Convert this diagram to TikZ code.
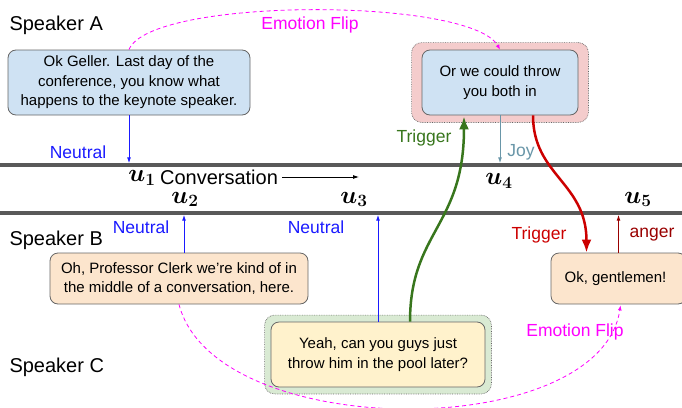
\documentclass[tikz,border=0pt]{standalone}
\usepackage[no-math]{fontspec}
\setmainfont{Liberation Sans}
\usepackage{amsmath}
\usetikzlibrary{arrows.meta, positioning, fit, backgrounds}
\definecolor{boxBlue}{RGB}{207,226,243}
\definecolor{boxPeach}{RGB}{252,229,205}
\definecolor{boxYellow}{RGB}{255,242,204}
\definecolor{haloRed}{RGB}{244,204,204}
\definecolor{haloGreen}{RGB}{217,234,211}
\definecolor{edgeGray}{RGB}{102,102,102}
\definecolor{railGray}{RGB}{89,89,89}
\definecolor{neutralBlue}{RGB}{26,26,255}
\definecolor{joyTeal}{RGB}{105,150,168}
\definecolor{trigGreen}{RGB}{56,118,29}
\definecolor{trigRed}{RGB}{204,0,0}
\definecolor{angerRed}{RGB}{153,0,0}
\definecolor{flipPink}{RGB}{255,0,255}

\tikzset{
  utt/.style={draw=edgeGray, line width=0.8pt, rounded corners=8pt, align=center,
    inner sep=0pt, font=\fontsize{15}{19.5}\selectfont},
  halo/.style={draw=edgeGray, densely dotted, line width=0.7pt, rounded corners=10pt},
  emo/.style={font=\fontsize{17.5}{20}\selectfont},
  spk/.style={anchor=west, font=\fontsize{20}{24}\selectfont},
  uidx/.style={inner sep=0pt, font=\fontsize{24}{26}\selectfont\boldmath},
  thinarr/.style={line width=1pt, -{Latex[length=6pt,width=4pt]}},
  trigarr/.style={line width=2.5pt, -{Latex[length=13pt,width=10pt]}},
  fliparr/.style={flipPink, line width=0.8pt, dash pattern=on 4pt off 3pt,
    -{Latex[length=5pt,width=4pt]}},
}

\begin{document}
\begin{tikzpicture}[x=1pt,y=-1pt]
  \useasboundingbox (0,0) rectangle (682,407);

  % speakers
  \node[spk] (spkA) at (6,25) {Speaker A};
  \node[spk] (spkB) at (6,240) {Speaker B};
  \node[spk] (spkC) at (6,367) {Speaker C};

  % conversation rails
  \coordinate (railA) at (0,165.3);
  \coordinate (railB) at (0,212.7);
  \draw[railGray, line width=4pt] (railA) -- (682,165.3);
  \draw[railGray, line width=4pt] (railB) -- (682,212.7);

  % utterances
  \node[utt, fill=boxBlue, minimum width=242pt, minimum height=65pt] (uttA) at (129,82.5)
    {Ok Geller. Last day of the\\conference, you know what\\happens to the keynote speaker.};
  \node[utt, fill=boxPeach, minimum width=258pt, minimum height=51pt] (uttB) at (179,278.5)
    {Oh, Professor Clerk we're kind of in\\the middle of a conversation, here.};
  \node[utt, fill=boxYellow, minimum width=214pt, minimum height=65pt] (uttC) at (378,354.5)
    {Yeah, can you guys just\\throw him in the pool later?};
  \node[utt, fill=boxBlue, minimum width=156pt, minimum height=65pt] (uttD) at (500,82.5)
    {Or we could throw\\you both in};
  \node[utt, fill=boxPeach, minimum width=135pt, minimum height=51pt] (uttE) at (618.5,278.5)
    {\hspace*{-6pt}Ok, gentlemen!};

  \begin{scope}[on background layer]
    \node[halo, fill=haloRed, fit=(uttD), inner xsep=10pt, inner ysep=7pt] (haloD) {};
    \node[halo, fill=haloGreen, fit=(uttC), inner xsep=6pt, inner ysep=6.5pt] (haloC) {};
  \end{scope}

  % utterance indices
  \node[uidx] (u1) at (142,178) {$u_1$};
  \node[uidx] (u2) at (185,199.5) {$u_2$};
  \node[uidx] (u3) at (354,199.5) {$u_3$};
  \node[uidx] (u4) at (499,181) {$u_4$};
  \node[uidx] (u5) at (638,199.5) {$u_5$};
  \node[font=\fontsize{20}{24}\selectfont, inner sep=1pt] (conv) at (219,177) {Conversation};
  \coordinate (convEnd) at (359,178);
  \draw[line width=0.8pt, -{Latex[length=6pt,width=4pt]}] ([xshift=3pt]conv.east) -- (conv.east -| convEnd);

  % emotions
  \draw[thinarr, neutralBlue] (uttA.south) -- ([yshift=2pt]uttA.south |- railA);
  \node[emo, neutralBlue] (neuA) at (78,152) {Neutral};
  \draw[thinarr, neutralBlue] ([xshift=5pt]uttB.north) -- ([xshift=5pt,yshift=-2pt]uttB.north |- railB);
  \node[emo, neutralBlue] (neuB) at (141,227) {Neutral};
  \draw[thinarr, neutralBlue] (uttC.north) -- ([yshift=-2pt]uttC.north |- railB);
  \node[emo, neutralBlue] (neuC) at (316,227) {Neutral};
  \draw[thinarr, joyTeal] (uttD.south) -- ([yshift=2pt]uttD.south |- railA);
  \node[emo, joyTeal] (joy) at (521,152) {Joy};
  \draw[thinarr, angerRed] (uttE.north) -- ([yshift=-2pt]uttE.north |- railB);
  \node[emo, angerRed] (anger) at (652,235) {anger};

  % triggers
  \draw[trigarr, trigGreen] ([xshift=32pt]uttC.north)
    .. controls +(0,-90) and +(0,110) .. ([xshift=-36pt,yshift=-1pt]uttD.south);
  \node[emo, trigGreen] (trigG) at (424,138) {Trigger};
  \draw[trigarr, trigRed] ([xshift=33pt]uttD.south)
    .. controls +(0,60) and +(0,-70) .. ([xshift=-32pt]uttE.north);
  \node[emo, trigRed] (trigR) at (539,235) {Trigger};

  % emotion flips
  \draw[fliparr] (uttA.north) .. controls (150,-3) and (470,-3) .. (uttD.north);
  \node[emo, flipPink] (flipA) at (310,25) {Emotion Flip};
  \draw[fliparr] (uttB.south) .. controls (215,443) and (600,443) .. ([xshift=2pt,yshift=-1pt]uttE.south);
  \node[emo, flipPink] (flipB) at (575,332) {Emotion Flip};
\end{tikzpicture}
\end{document}
